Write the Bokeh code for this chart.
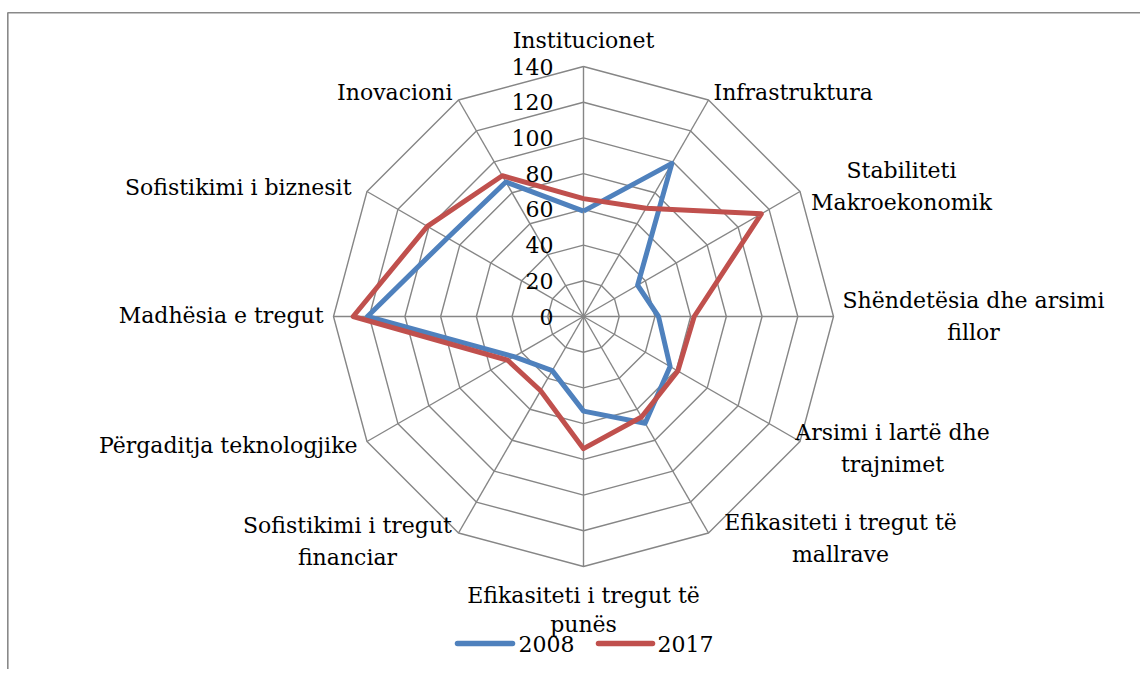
import math
from bokeh.plotting import figure
from bokeh.models import Range1d
from bokeh.core.properties import value
from bokeh.embed import file_html
from bokeh.resources import INLINE

# ---------------- data ----------------
categories = [
    "Institucionet", "Infrastruktura", "Stabiliteti Makroekonomik",
    "Shëndetësia dhe arsimi fillor", "Arsimi i lartë dhe trajnimet",
    "Efikasiteti i tregut të mallrave", "Efikasiteti i tregut të punës",
    "Sofistikimi i tregut financiar", "Përgaditja teknologjike",
    "Madhësia e tregut", "Sofistikimi i biznesit", "Inovacioni",
]
values_2008 = [59, 99, 35, 42, 56, 69, 53, 35, 45, 121, 88, 87]
values_2017 = [66, 70, 115, 62, 61, 65, 74, 48, 49, 129, 101, 91]
series_names = ["2008", "2017"]
tick_values = [0, 20, 40, 60, 80, 100, 120, 140]
r_max = 140

# ---------------- layout ----------------
W, H = 1140, 669
OX, OY = 0, 0                  # page offset of the figure
CX, CY = 583.0, 316.0          # page pixel of chart centre
K = 250.0 / r_max              # px per unit
FONT = "DejaVu Serif"
GRID = "#868686"
BLUE = "#4F81BD"
RED = "#C0504D"


def X(px):
    return (px - CX) / K


def Y(py):
    return (CY - py) / K


p = figure(width=W, height=H, output_backend="svg", toolbar_location=None,
           x_range=Range1d((OX - CX) / K, (OX + W - CX) / K),
           y_range=Range1d((CY - OY - H) / K, (CY - OY) / K),
           min_border=0, border_fill_color="white", background_fill_color="white")
p.axis.visible = False
p.grid.visible = False
p.outline_line_color = None

n = len(categories)
angles = [2 * math.pi * i / n for i in range(n)]

# frame (left and top edges visible)
p.line([X(7.3), X(7.3), X(1160)], [Y(700), Y(12.3), Y(12.3)],
       line_color="#898989", line_width=1.6)

# grid rings
for t in tick_values[1:]:
    xs = [t * math.sin(a) for a in angles] + [0]
    ys = [t * math.cos(a) for a in angles] + [t]
    p.line(xs, ys, line_color=GRID, line_width=1.4)

# spokes
p.segment(x0=[0] * n, y0=[0] * n,
          x1=[r_max * math.sin(a) for a in angles],
          y1=[r_max * math.cos(a) for a in angles],
          line_color=GRID, line_width=1.4)

# series
for vals, col in [(values_2008, BLUE), (values_2017, RED)]:
    xs = [v * math.sin(a) for v, a in zip(vals, angles)]
    ys = [v * math.cos(a) for v, a in zip(vals, angles)]
    xs.append(xs[0])
    ys.append(ys[0])
    p.line(xs, ys, line_color=col, line_width=5, line_join="round")

# tick labels
p.text(x=[X(553)] * len(tick_values), y=tick_values,
       text=[str(t) for t in tick_values],
       text_font=value(FONT), text_font_size="22px", text_color="black",
       text_align="right", text_baseline="middle")

MID = 8  # distance from baseline to text middle, px

# category labels: (lines, anchor page x, first baseline page y, align)
label_layout = [
    (["Institucionet"], 583, 48, "center"),
    (["Infrastruktura"], 713, 100, "left"),
    (["Stabiliteti", "Makroekonomik"], 901, 178, "center"),
    (["Shëndetësia dhe arsimi", "fillor"], 973, 308, "center"),
    (["Arsimi i lartë dhe", "trajnimet"], 892, 440, "center"),
    (["Efikasiteti i tregut të", "mallrave"], 840, 530, "center"),
    (["Efikasiteti i tregut të", "punës"], 583, 603, "center"),
    (["Sofistikimi i tregut", "financiar"], 347, 533, "center"),
    (["Përgaditja teknologjike"], 357, 453, "right"),
    (["Madhësia e tregut"], 323, 323, "right"),
    (["Sofistikimi i biznesit"], 351, 195, "right"),
    (["Inovacioni"], 452, 100, "right"),
]
for lines, ax, ay, al in label_layout:
    step = 29 if (lines[0].startswith("Efikasiteti") and ax == 583) else 32
    for j, ln in enumerate(lines):
        p.text(x=[X(ax)], y=[Y(ay + j * step - MID)], text=[ln],
               text_font=value(FONT), text_font_size="22px", text_color="black",
               text_align=al, text_baseline="middle")

# legend
for (lx0, lx1, tx), name, col in zip([(457, 512, 518), (598, 652, 657)], series_names, [BLUE, RED]):
    p.line([X(lx0), X(lx1)], [Y(643), Y(643)], line_color=col, line_width=5.5, line_cap="round")
    p.text(x=[X(tx)], y=[Y(651 - MID)], text=[name],
           text_font=value(FONT), text_font_size="22px", text_color="black",
           text_align="left", text_baseline="middle")

open("out.html", "w").write(file_html(p, INLINE))
